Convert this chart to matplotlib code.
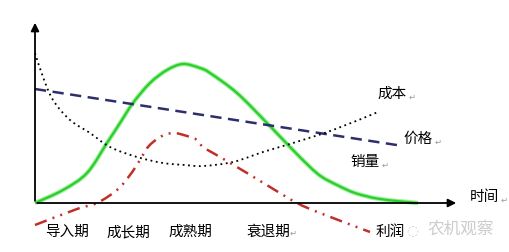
import matplotlib
matplotlib.use('Agg')
import matplotlib.pyplot as plt
from matplotlib.path import Path
from matplotlib.patches import PathPatch

plt.rcParams['font.family'] = ['Noto Sans CJK SC', 'DejaVu Sans']

# 销量 (sales) - green
sales_t = [0, 28, 52, 72, 85, 98, 115, 132, 148, 165, 175, 202, 232, 255, 275, 287, 302, 320, 345, 383]
sales_v = [0, 13, 30, 60, 80, 100, 120, 133, 139, 135, 130, 110, 80, 56, 36, 26, 18, 10, 4, 0]

# 价格 (price) - dashed blue
price_t = [0, 368]
price_v = [114, 57]

# 成本 (cost) - dotted black
cost_t = [0, 8, 18, 35, 55, 75, 102, 128, 150, 168, 198, 228, 258, 298, 343]
cost_v = [150, 126, 103, 83, 70, 56, 46, 40, 38, 37, 41, 51, 60, 73, 91]

# 利润 (profit) - red dash-dot-dot
profit_t = [0, 42, 62, 82, 95, 105, 113, 125, 138, 152, 162, 168, 185, 212, 235, 262, 285, 335]
profit_v = [-22, -6, 0, 13, 28, 43, 56, 66, 70, 67, 63, 56, 46, 30, 16, 0, -10, -29]

stage_labels = ['导入期', '成长期', '成熟期', '衰退期']
stage_pos = [32, 93, 155, 233]


def smooth_curve(ax, xs, ys, **kw):
    # catmull-rom through the points, drawn as bezier path
    pts = list(zip(xs, ys))
    verts = [pts[0]]
    codes = [Path.MOVETO]
    n = len(pts)
    for i in range(n - 1):
        p0 = pts[max(i - 1, 0)]
        p1 = pts[i]
        p2 = pts[i + 1]
        p3 = pts[min(i + 2, n - 1)]
        c1 = (p1[0] + (p2[0] - p0[0]) / 6, p1[1] + (p2[1] - p0[1]) / 6)
        c2 = (p2[0] - (p3[0] - p1[0]) / 6, p2[1] - (p3[1] - p1[1]) / 6)
        verts += [c1, c2, p2]
        codes += [Path.CURVE4] * 3
    patch = PathPatch(Path(verts, codes), fill=False, **kw)
    ax.add_patch(patch)
    return patch


fig = plt.figure(figsize=(5.1, 2.52), dpi=100)
ax = fig.add_axes([0, 0, 1, 1])
ax.set_xlim(-35, 475)
ax.set_ylim(-49, 203)
ax.axis('off')

smooth_curve(ax, sales_t, sales_v, edgecolor='#9af29a', lw=3.2, zorder=2)
smooth_curve(ax, sales_t, sales_v, edgecolor='#2ecc2e', lw=1.6, zorder=3)
ax.plot(price_t, price_v, color='#2e2e6e', lw=1.8, dashes=(4.5, 2.6), zorder=3)
smooth_curve(ax, cost_t, cost_v, edgecolor='black', lw=1.3, linestyle=(0, (1, 2)), zorder=3)
smooth_curve(ax, profit_t, profit_v, edgecolor='#c0302a', lw=1.8,
             linestyle=(0, (5, 2.5, 0.8, 2.5, 0.8, 2.5)), zorder=3)

# axes with arrows
ax.annotate('', xy=(0, 183), xytext=(0, -0.5),
            arrowprops=dict(arrowstyle='-|>', color='black', lw=1.3, mutation_scale=12))
ax.annotate('', xy=(424, 0), xytext=(-0.5, 0),
            arrowprops=dict(arrowstyle='-|>', color='black', lw=1.3, mutation_scale=12))

fs = 10.5
ret = dict(fontsize=6, color='#999999', ha='left', va='center', family='DejaVu Sans')
for lab, p in zip(stage_labels, stage_pos):
    ax.text(p, -29, lab, fontsize=fs, ha='center', va='center')
ax.text(255, -30, '↵', **ret)

ax.text(355, -29, '利润', fontsize=fs, ha='center', va='center')
ax.text(377, -27, '◌', fontsize=10, color='#d0d0d0', ha='center', va='center', family='DejaVu Sans')
ax.text(426, -26, '农机观察', fontsize=12, color='#cccccc', ha='center', va='center')

ax.text(449, 6, '时间', fontsize=fs, ha='center', va='center')
ax.text(466, 3, '↵', **ret)
ax.text(357, 109, '成本', fontsize=fs, ha='center', va='center')
ax.text(374, 106, '↵', **ret)
ax.text(383, 64, '价格', fontsize=fs, ha='center', va='center')
ax.text(400, 61, '↵', **ret)
ax.text(330, 41, '销量', fontsize=fs, ha='center', va='center')
ax.text(347, 38, '↵', **ret)

fig.savefig('out.png', dpi=100)
